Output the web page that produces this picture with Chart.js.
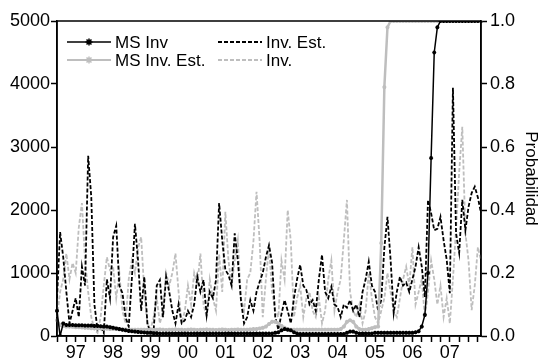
<!DOCTYPE html>
<html>
<head>
<meta charset="utf-8">
<script src="https://cdn.jsdelivr.net/npm/chart.js@4.4.1/dist/chart.umd.min.js"></script>
<style>
  html, body { margin: 0; padding: 0; background: #fff; }
  #wrap { width: 541px; height: 363px; }
</style>
</head>
<body>
<div id="wrap"><canvas id="myChart"></canvas></div>
<script>
// monthly observations, Jan 1997 .. May 2008
let months = [];
for (let y = 1997; y <= 2008; y++) {
  for (let m = 1; m <= 12; m++) {
    if (y === 2008 && m > 5) break;
    months.push(y + '-' + String(m).padStart(2, '0'));
  }
}

// left axis (level)
let invEst = [
  600,1650,1250,700,200,400,600,300,1100,800,
  2860,2200,500,100,150,50,900,600,1570,1750,
  800,680,300,150,900,1780,1200,400,940,200,
  50,100,800,890,300,940,700,400,200,500,
  200,250,400,300,500,940,700,890,330,700,
  600,890,2110,1520,1050,970,800,1630,1200,570,
  200,300,570,400,700,860,1000,1250,1440,1160,
  300,100,350,570,400,200,600,900,1130,800,
  730,500,570,400,900,1290,700,600,780,500,
  460,300,500,450,570,400,500,300,700,900,
  1180,800,700,400,570,1400,1890,1210,365,700,
  940,800,850,700,900,1100,1410,1100,620,2160,
  1950,1680,1700,1890,1520,1210,680,3940,1630,1320,
  2160,1680,2050,2270,2370,2200,1950
];
let inv = [
  300,700,900,1310,900,1160,1000,1730,2110,1200,
  700,300,100,50,300,800,1250,1050,1100,600,
  1000,400,200,900,1200,1000,1400,1570,700,200,
  100,300,600,200,400,1000,800,1000,1310,700,
  200,400,800,500,1000,800,1310,500,300,900,
  600,400,1300,700,1970,1200,800,1200,1520,600,
  400,900,1000,1500,2290,1500,300,900,1400,700,
  400,300,1200,900,2000,1500,300,600,800,300,
  600,700,400,300,600,200,400,900,1200,400,
  700,900,1520,2160,700,400,300,500,200,400,
  1000,600,300,200,400,600,1000,700,400,300,
  600,900,1100,800,1410,500,700,900,300,700,
  1200,900,500,800,300,600,200,900,1700,2600,
  3320,1630,1200,410,800,1410,1200
];

// right axis (probability)
let msInv = [
  0.08,0.00,0.04,0.035,0.035,0.035,0.034,0.034,0.034,0.033,
  0.033,0.033,0.032,0.032,0.031,0.030,0.030,0.028,0.026,0.024,
  0.022,0.020,0.018,0.016,0.015,0.014,0.013,0.012,0.011,0.010,
  0.010,0.009,0.009,0.008,0.008,0.008,0.008,0.008,0.008,0.008,
  0.008,0.008,0.008,0.008,0.008,0.008,0.008,0.008,0.008,0.008,
  0.008,0.008,0.008,0.008,0.008,0.008,0.008,0.008,0.008,0.008,
  0.008,0.008,0.008,0.008,0.008,0.008,0.008,0.008,0.008,0.008,
  0.010,0.012,0.018,0.022,0.020,0.018,0.012,0.008,0.006,0.006,
  0.006,0.006,0.006,0.006,0.006,0.006,0.006,0.006,0.006,0.006,
  0.006,0.006,0.006,0.010,0.014,0.014,0.010,0.008,0.008,0.008,
  0.008,0.008,0.010,0.010,0.010,0.010,0.010,0.010,0.010,0.010,
  0.010,0.010,0.010,0.010,0.010,0.012,0.015,0.030,0.067,0.200,
  0.565,0.900,0.980,1,1,1,1,1,1,1,
  1,1,1,1,1,1,1
];
let msInvEst = [
  0.050,0.035,0.032,0.030,0.030,0.029,0.028,0.028,0.027,0.026,
  0.026,0.025,0.025,0.024,0.024,0.023,0.023,0.022,0.022,0.022,
  0.021,0.021,0.021,0.020,0.020,0.020,0.020,0.020,0.020,0.020,
  0.020,0.019,0.020,0.021,0.020,0.019,0.020,0.020,0.021,0.020,
  0.020,0.019,0.020,0.021,0.020,0.019,0.020,0.020,0.021,0.020,
  0.020,0.019,0.020,0.021,0.020,0.019,0.020,0.020,0.021,0.020,
  0.020,0.020,0.021,0.022,0.022,0.024,0.026,0.030,0.038,0.045,
  0.045,0.040,0.032,0.026,0.022,0.020,0.020,0.020,0.020,0.020,
  0.020,0.020,0.020,0.020,0.020,0.020,0.020,0.020,0.020,0.020,
  0.020,0.022,0.030,0.045,0.050,0.045,0.030,0.022,0.020,0.020,
  0.022,0.025,0.028,0.030,0.295,0.790,0.980,1,1,1,
  1,1,1,1,1,1,1,1,1,1,
  1,1,1,1,1,1,1,1,1,1,
  1,1,1,1,1,1,1
];

let leftTicks = [0, 1000, 2000, 3000, 4000, 5000];
let rightTicks = [0.0, 0.2, 0.4, 0.6, 0.8, 1.0];

let gray = 'rgb(190, 190, 190)';
let tickFont = { family: 'Arial, "Liberation Sans", sans-serif', size: 18 };

// plot frame
let frame = {
  id: 'frame',
  afterDatasetsDraw(chart) {
    let a = chart.chartArea, ctx = chart.ctx;
    ctx.save();
    ctx.strokeStyle = '#000';
    ctx.lineWidth = 1.5;
    ctx.strokeRect(a.left, a.top, a.right - a.left, a.bottom - a.top);
    ctx.restore();
  }
};

// legend inside the plot, two columns
let boxLegend = {
  id: 'boxLegend',
  afterDraw(chart) {
    let a = chart.chartArea, ctx = chart.ctx;
    let cols = [a.left + 10, a.left + 161];
    let rows = [a.top + 21, a.top + 39];
    let slots = [[0, 0], [1, 0], [0, 1], [1, 1]];
    ctx.save();
    chart.data.datasets.forEach((ds) => {
      let s = slots[ds.legendSlot];
      let x = cols[s[0]], y = rows[s[1]];
      ctx.strokeStyle = ds.borderColor;
      ctx.lineWidth = Math.min(ds.borderWidth, 1.8);
      ctx.setLineDash(ds.borderDash || []);
      ctx.beginPath();
      ctx.moveTo(x, y);
      ctx.lineTo(x + 44, y);
      ctx.stroke();
      ctx.setLineDash([]);
      if (ds.pointRadius > 0) {
        ctx.fillStyle = ds.borderColor;
        ctx.lineWidth = 1.5;
        Chart.helpers.drawPoint(ctx, { pointStyle: 'star', radius: 3.5, rotation: 0, borderWidth: 1.5 }, x + 22, y);
      }
      ctx.fillStyle = '#000';
      ctx.font = '17px "Liberation Sans Narrow", "Arial Narrow", sans-serif';
      ctx.textBaseline = 'middle';
      ctx.fillText(ds.label, x + 48, y + 1);
    });
    ctx.restore();
  }
};

let ctx = document.getElementById('myChart').getContext('2d');
let chart = new Chart(ctx, {
  type: 'line',
  data: {
    labels: months,
    datasets: [
      {
        label: 'MS Inv', data: msInv, yAxisID: 'yR', order: 0, legendSlot: 0,
        borderColor: '#000', backgroundColor: '#000', borderWidth: 1.5,
        pointStyle: 'star', pointRadius: 2, pointBorderWidth: 1.2, pointBorderColor: '#000'
      },
      {
        label: 'Inv. Est.', data: invEst, yAxisID: 'yL', order: 2, legendSlot: 1,
        borderColor: '#000', borderWidth: 1.8, borderDash: [4, 2], pointRadius: 0
      },
      {
        label: 'MS Inv. Est.', data: msInvEst, yAxisID: 'yR', order: 1, legendSlot: 2,
        borderColor: gray, backgroundColor: gray, borderWidth: 2.5,
        pointStyle: 'star', pointRadius: 2, pointBorderWidth: 1.2, pointBorderColor: gray
      },
      {
        label: 'Inv.', data: inv, yAxisID: 'yL', order: 3, legendSlot: 3,
        borderColor: gray, borderWidth: 1.8, borderDash: [4, 2], pointRadius: 0
      }
    ]
  },
  options: {
    responsive: true,
    maintainAspectRatio: false,
    animation: false,
    devicePixelRatio: 1,
    layout: { padding: { top: 21, left: 0, right: 0, bottom: 0 } },
    plugins: { legend: { display: false }, tooltip: { enabled: false } },
    elements: { line: { tension: 0 } },
    scales: {
      x: {
        type: 'category',
        offset: false,
        border: { display: true, color: '#000', width: 1.5 },
        grid: { drawOnChartArea: false, tickLength: 6, tickColor: '#000', tickWidth: 1.5 },
        afterBuildTicks: (s) => {
          let t = [];
          months.forEach((m, i) => { if (['01', '04', '07', '10'].includes(m.slice(5))) t.push({ value: i }); });
          s.ticks = t;
        },
        ticks: {
          autoSkip: false, maxRotation: 0, color: '#000', font: tickFont, padding: 0,
          callback: (v) => months[v].slice(5) === '07' ? months[v].slice(2, 4) : ''
        },
        afterFit: (s) => { s.height = 27; }
      },
      yL: {
        position: 'left', min: 0, max: 5000,
        border: { display: true, color: '#000', width: 1.5 },
        grid: { drawOnChartArea: false, tickLength: 6, tickColor: '#000', tickWidth: 1.5 },
        afterBuildTicks: (s) => { s.ticks = leftTicks.map(v => ({ value: v })); },
        ticks: { color: '#000', font: tickFont, padding: 1, callback: (v) => String(v) },
        afterFit: (s) => { s.width = 57; }
      },
      yR: {
        position: 'right', min: 0, max: 1,
        border: { display: true, color: '#000', width: 1.5 },
        grid: { drawOnChartArea: false, tickLength: 6, tickColor: '#000', tickWidth: 1.5 },
        afterBuildTicks: (s) => { s.ticks = rightTicks.map(v => ({ value: v })); },
        ticks: { color: '#000', font: tickFont, padding: 3, callback: (v) => Number(v).toFixed(1) },
        title: { display: true, text: 'Probabilidad', color: '#000', font: { family: 'Arial, "Liberation Sans", sans-serif', size: 17 }, padding: 0 },
        afterFit: (s) => { s.width = 60; }
      }
    }
  },
  plugins: [frame, boxLegend]
});
</script>
</body>
</html>
